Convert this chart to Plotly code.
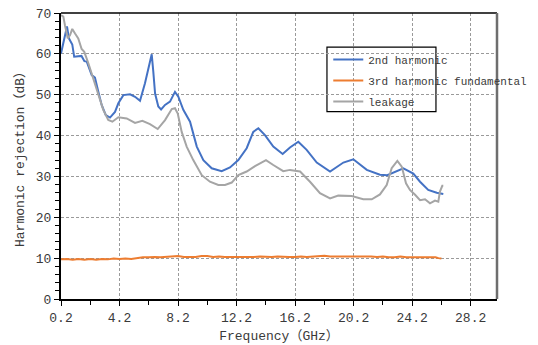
import plotly.graph_objects as go

# Measured harmonic rejection versus frequency (GHz, dB)
freq_2nd = [0.2, 0.45, 0.61, 0.74, 0.9, 0.97, 1.1, 1.43, 1.6, 1.8, 1.96, 2.3, 2.52, 2.75,
            2.98, 3.26, 3.55, 3.89, 4.12, 4.46, 4.92, 5.26, 5.6, 5.94, 6.17, 6.4, 6.51,
            6.63, 6.85, 7.04, 7.31, 7.65, 7.99, 8.22, 8.56, 9.02, 9.48, 9.93, 10.5, 11.18,
            11.75, 12.32, 12.89, 13.34, 13.69, 14.14, 14.71, 15.35, 15.85, 16.42, 16.99,
            17.68, 18.59, 19.5, 20.18, 21.1, 22.0, 22.5, 23.6, 24.28, 24.74, 25.3, 25.88,
            26.33]
rej_2nd = [60.1, 64.0, 66.7, 63.8, 62.6, 62.3, 59.3, 59.5, 59.5, 58.2, 58.1, 54.8, 54.2, 50.7,
           47.5, 45.0, 44.4, 45.8, 47.9, 49.9, 50.1, 49.5, 48.5, 52.8, 56.5, 59.9, 55.6,
           50.3, 47.1, 46.4, 47.5, 48.3, 50.7, 49.5, 46.3, 43.4, 37.3, 34.0, 32.0, 31.3,
           32.2, 34.0, 36.9, 40.9, 41.8, 40.1, 37.3, 35.5, 37.1, 38.5, 36.5,
           33.4, 31.2, 33.4, 34.2, 31.6, 30.4, 30.3, 32.0, 30.7, 28.7, 26.7, 26.0,
           25.7]

freq_3rd = [0.2, 0.6, 1.0, 1.4, 1.8, 2.2, 2.6, 3.0, 3.4, 3.8, 4.2, 4.6, 5.0, 5.4, 5.8, 6.2,
            6.6, 7.0, 7.4, 7.8, 8.2, 8.6, 9.0, 9.4, 9.8, 10.2, 10.6, 11.0, 11.4, 11.8, 12.2,
            12.6, 13.0, 13.4, 13.8, 14.2, 14.6, 15.0, 15.4, 15.8, 16.2, 16.6, 17.0, 17.4,
            17.8, 18.2, 18.6, 19.0, 19.4, 19.8, 20.2, 20.6, 21.0, 21.4, 21.8, 22.2, 22.6,
            23.0, 23.4, 23.8, 24.2, 24.6, 25.0, 25.4, 25.8, 26.0, 26.2]
rej_3rd = [9.7, 9.8, 9.6, 9.8, 9.6, 9.8, 9.6, 9.8, 9.7, 9.9, 9.8, 9.9, 9.8, 10.0, 10.2, 10.2,
           10.3, 10.2, 10.3, 10.3, 10.5, 10.3, 10.3, 10.3, 10.5, 10.5, 10.3, 10.4, 10.3, 10.3,
           10.3, 10.3, 10.2, 10.3, 10.4, 10.3, 10.3, 10.4, 10.3, 10.3, 10.3, 10.4, 10.3, 10.4,
           10.5, 10.6, 10.4, 10.4, 10.4, 10.5, 10.5, 10.5, 10.4, 10.4, 10.3, 10.4, 10.2,
           10.2, 10.4, 10.2, 10.2, 10.2, 10.2, 10.2, 10.2, 10.0, 9.9]

freq_leak = [0.2, 0.36, 0.47, 0.66, 0.82, 0.97, 1.16, 1.38, 1.61, 1.79, 2.07, 2.4, 2.75, 3.09,
             3.43, 3.71, 4.12, 4.69, 5.26, 5.76, 6.28, 6.81, 7.31, 7.77, 7.99, 8.18, 8.45,
             8.79, 9.24, 9.82, 10.38, 10.95, 11.41, 11.87, 12.32, 12.89, 13.46, 13.8, 14.21,
             14.71, 15.39, 15.85, 16.54, 17.22, 17.9, 18.59, 19.15, 20.07, 20.86, 21.44,
             22.0, 22.46, 22.8, 23.19, 23.49, 23.78, 24.05, 24.4, 24.74, 25.08, 25.42,
             25.76, 25.99, 26.1, 26.26, 26.33]
rej_leak = [69.5, 69.1, 67.0, 63.8, 64.6, 66.1, 65.0, 63.8, 61.2, 60.5, 57.7, 54.0, 50.3, 46.3,
            43.8, 43.4, 44.5, 44.2, 43.1, 43.6, 42.8, 41.6, 43.8, 46.5, 46.7, 45.4, 40.9,
            37.3, 34.0, 30.3, 28.7, 27.9, 27.9, 28.5, 30.3, 31.2, 32.5, 33.2, 34.0,
            32.8, 31.3, 31.6, 31.2, 28.7, 25.9, 24.6, 25.3, 25.2, 24.4, 24.4,
            25.6, 27.9, 32.0, 33.8, 32.4, 28.3, 26.7, 25.5, 24.2, 24.4, 23.4,
            24.1, 23.8, 26.3, 27.7, 27.7]

FONT = "'Liberation Mono', 'Noto Sans CJK SC', monospace"
TXT = "#3a3a3a"

fig = go.Figure()
fig.add_trace(go.Scatter(x=freq_2nd, y=rej_2nd, mode="lines", name="2nd harmonic",
                         legendgroup="a", line=dict(color="#4472C4", width=2)))
fig.add_trace(go.Scatter(x=freq_3rd, y=rej_3rd, mode="lines", name="3rd harmonic fundamental",
                         legendgroup="b", line=dict(color="#ED7D31", width=2)))
fig.add_trace(go.Scatter(x=freq_leak, y=rej_leak, mode="lines", name="leakage",
                         legendgroup="c", line=dict(color="#A5A5A5", width=2)))

fig.update_layout(
    width=538, height=345,
    margin=dict(l=61, r=41, t=13, b=46, autoexpand=False),
    paper_bgcolor="white", plot_bgcolor="white",
    font=dict(family=FONT, size=13, color=TXT),
    showlegend=True,
    legend=dict(x=0.613, y=0.888, xanchor="left", yanchor="top",
                bgcolor="rgba(0,0,0,0)", borderwidth=0,
                font=dict(family=FONT, size=11, color=TXT),
                tracegroupgap=2, itemwidth=30),
    xaxis=dict(
        range=[0.2, 30.0], tick0=0.2, dtick=4, tickformat=".1f",
        showgrid=True, gridcolor="#9a9a9a", griddash="3px,2px", gridwidth=1,
        showline=True, linecolor="black", linewidth=2, mirror=False,
        ticks="outside", ticklen=5, tickcolor="black", tickwidth=1,
        minor=dict(dtick=2, tick0=0.2, ticks="outside", ticklen=4, tickcolor="black",
                   showgrid=False),
        zeroline=False,
        tickfont=dict(family=FONT, size=13, color=TXT),
        title=dict(text="Frequency（GHz）", font=dict(family=FONT, size=13, color=TXT),
                   standoff=6),
    ),
    yaxis=dict(
        range=[0, 70], tick0=0, dtick=10,
        showgrid=True, gridcolor="#9a9a9a", griddash="3px,2px", gridwidth=1,
        showline=True, linecolor="black", linewidth=2, mirror=False,
        ticks="outside", ticklen=5, tickcolor="black", tickwidth=1,
        minor=dict(dtick=2, ticks="outside", ticklen=4, tickcolor="black", showgrid=False),
        zeroline=False,
        tickfont=dict(family=FONT, size=13, color=TXT),
        title=dict(text="Harmonic rejection（dB）", font=dict(family=FONT, size=13, color=TXT),
                   standoff=8),
    ),
    shapes=[
        # top frame edge
        dict(type="line", xref="paper", yref="paper", x0=0, x1=1, y0=1, y1=1,
             line=dict(color="black", width=1.5)),
        # right frame edge
        dict(type="line", xref="paper", yref="paper", x0=1, x1=1, y0=0, y1=1,
             line=dict(color="#6e6e6e", width=2.5)),
        # legend box
        dict(type="rect", xref="paper", yref="paper", x0=0.610, x1=0.860,
             y0=0.655, y1=0.881, line=dict(color="black", width=1.2),
             fillcolor="rgba(255,255,255,1)", layer="below"),
    ],
)

fig.write_html("out.html")
